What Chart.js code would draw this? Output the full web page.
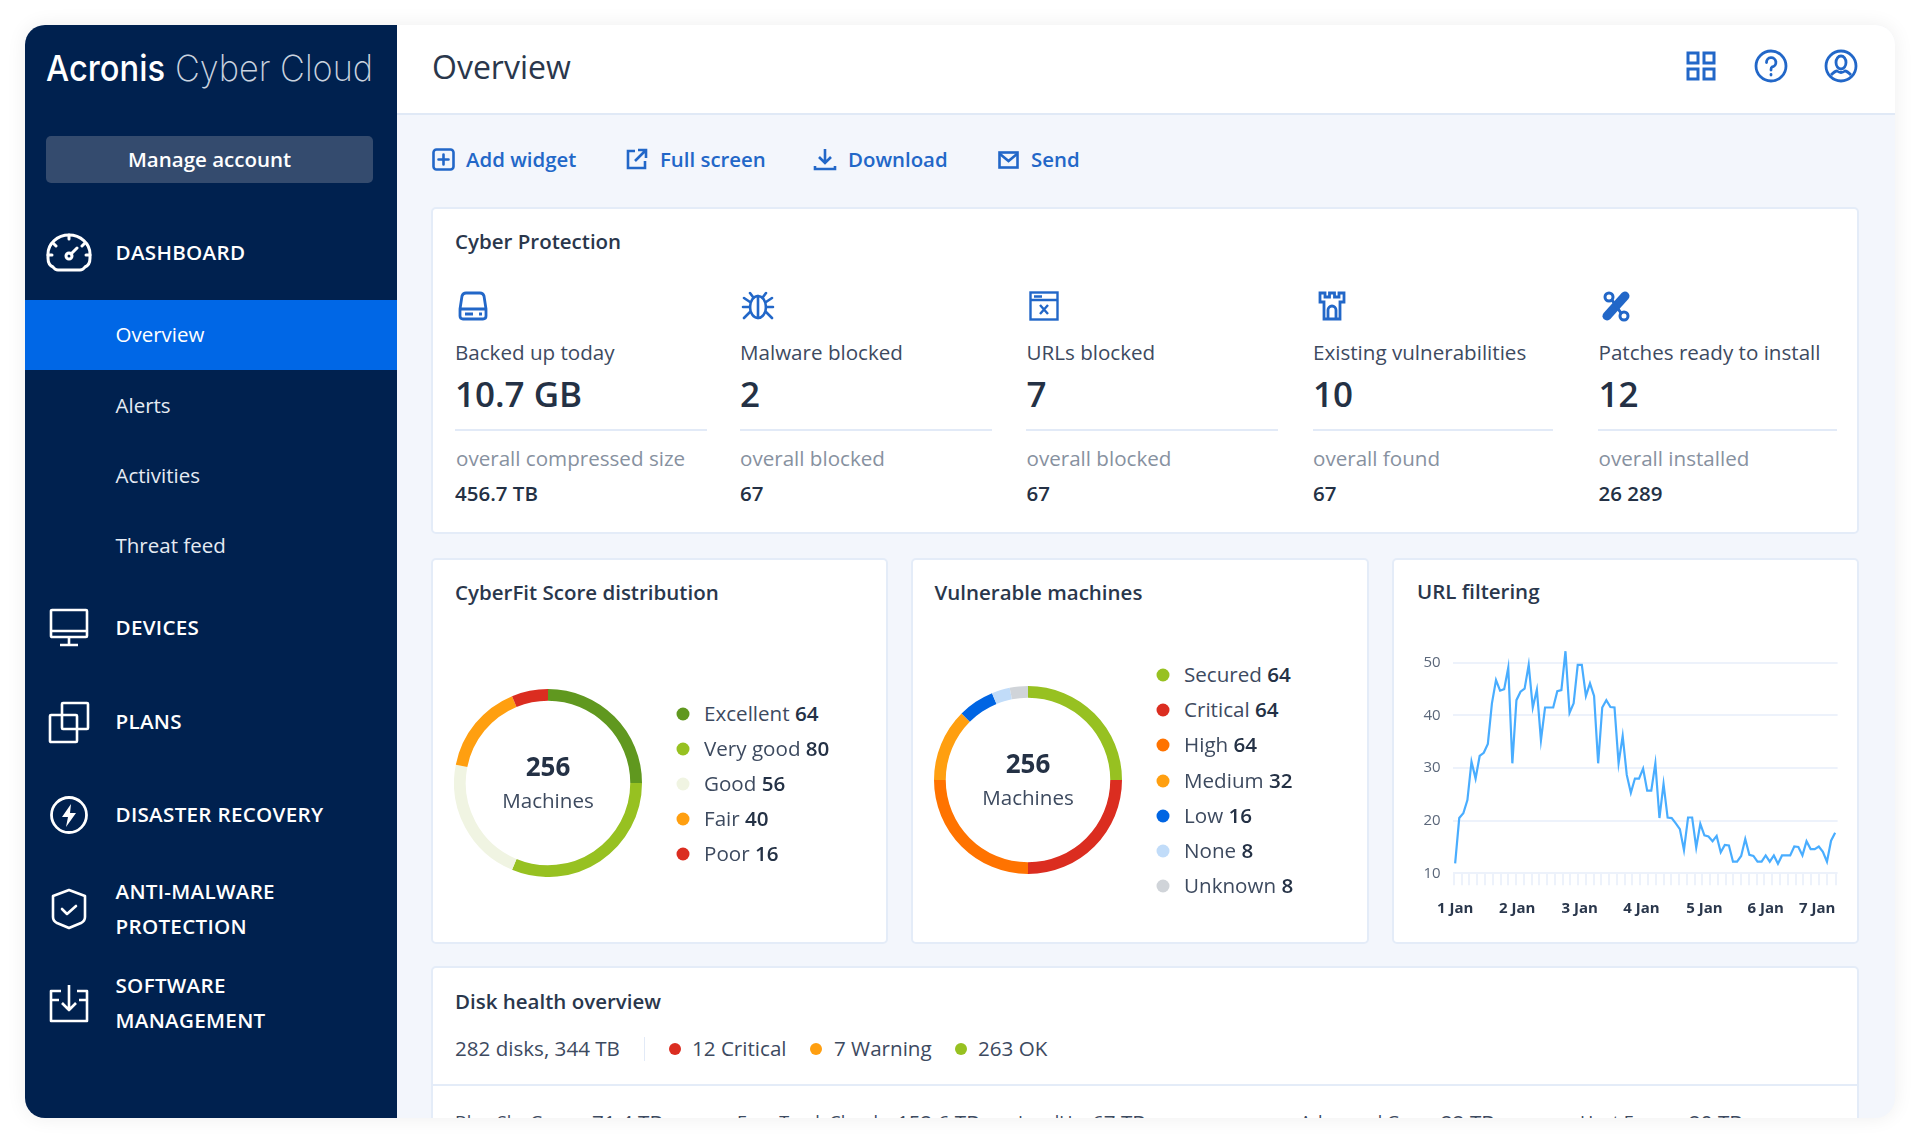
<!DOCTYPE html>
<html>
<head>
<meta charset="utf-8">
<title>Overview</title>
<script src="https://cdn.jsdelivr.net/npm/chart.js@4"></script>
<style>
  html, body { margin: 0; padding: 0; background: #fff; }
  body { width: 1920px; height: 1143px; overflow: hidden; position: relative; font-family: "Open Sans", sans-serif; color: #2a374c; }
  .abs { position: absolute; white-space: nowrap; line-height: 1; transform: translateY(calc(-50% - 1px)); }
  #panel { position: absolute; left: 25px; top: 25px; width: 1870px; height: 1093px; border-radius: 20px; overflow: hidden; background: #f3f6fc; box-shadow: 0 0 20px rgba(0,0,0,.07); }
  #stage { position: absolute; left: -25px; top: -25px; width: 1920px; height: 1143px; }
  #sidebar { position: absolute; left: 25px; top: 25px; width: 372px; height: 1093px; background: #00214f; }
  #topbar { position: absolute; left: 397px; top: 25px; width: 1498px; height: 90px; background: #fff; border-bottom: 2px solid #e0e9f6; box-sizing: border-box; }
  #active { position: absolute; left: 25px; top: 300px; width: 372px; height: 70px; background: #0067e6; }
  #manage { position: absolute; left: 46px; top: 136px; width: 327px; height: 47px; line-height: 47px; text-align: center; background: #344b6e; border-radius: 5px; color: #fff; font-size: 20.5px; font-weight: 600; }
  .nav { color: #fff; font-size: 20.6px; font-weight: 600; letter-spacing: .3px; left: 115.5px; }
  .sub { color: #e6ebf3; font-size: 20.5px; left: 115.5px; }
  .act { color: #2267c8; font-size: 20.4px; font-weight: 600; }
  .card { position: absolute; background: #fff; border: 2px solid #e4ecf8; border-radius: 5px; box-sizing: border-box; }
  .ctitle { font-size: 20.5px; font-weight: 600; color: #2a374c; }
  .lbl { font-size: 20.6px; color: #3d4a5f; }
  .big { font-size: 35px; font-weight: 600; color: #243145; }
  .muted { font-size: 20.6px; color: #8791a0; }
  .val { font-size: 20.5px; font-weight: 600; color: #243145; }
  .rule { position: absolute; height: 2px; background: #e2eaf7; top: 429px; }
  .dot { position: absolute; width: 12px; height: 12px; border-radius: 50%; transform: translate(-50%,-50%); }
  .leg { font-size: 20.6px; color: #3d4a5f; }
  .leg b { font-weight: 600; color: #243145; }
  .name { font-size: 18px; }
  .ctr { transform: translate(-50%,-50%); text-align: center; }
  svg.ic { position: absolute; fill: none; overflow: visible; }
  canvas { position: absolute; }
</style>
</head>
<body>
<div id="panel"><div id="stage">
  <div id="sidebar"></div>
  <div id="active"></div>
  <div id="topbar"></div>

  <svg class="ic" style="left:0;top:0" width="400" height="110">
    <text x="46" y="81" fill="#fff" font-family="Inter" font-size="36" font-weight="500" textLength="119" lengthAdjust="spacingAndGlyphs">Acronis</text>
    <text x="175" y="81" fill="#c9d2df" font-family="Inter" font-size="36" font-weight="200" textLength="198" lengthAdjust="spacingAndGlyphs">Cyber Cloud</text>
  </svg>
  <div id="manage">Manage account</div>

  <!-- sidebar icons -->
  <svg class="ic" style="left:46px;top:232px" width="46" height="42" stroke="#fff" stroke-width="3" stroke-linecap="round" stroke-linejoin="round">
    <path d="M12 38 H34 Q37 38 39 35 Q44 33 44 26 V22 A21 19 0 0 0 2 22 V26 Q2 33 7 35 Q9 38 12 38 Z"/>
    <path d="M23 3 V7 M7 11 L10 14 M39 11 L36 14 M2 23 H6 M44 23 H40 M25 22 L31 16"/>
    <circle cx="23" cy="24" r="3"/>
  </svg>
  <svg class="ic" style="left:50px;top:609px" width="38" height="38" stroke="#fff" stroke-width="2.6" stroke-linejoin="round">
    <rect x="1" y="1" width="36" height="27" rx="1"/><path d="M1 22 H37 M19 28 V35 M10 36 H28"/>
  </svg>
  <svg class="ic" style="left:49px;top:701px" width="40" height="42" stroke="#fff" stroke-width="2.6">
    <rect x="13" y="2" width="26" height="26" rx="1"/><rect x="1" y="14" width="27" height="27" rx="1"/>
  </svg>
  <svg class="ic" style="left:50px;top:796px" width="38" height="38" stroke="#fff" stroke-width="2.8">
    <circle cx="19" cy="19" r="17.5"/><path d="M21 8 L12 21 H18 L16 31 L26 17 H20 Z" fill="#fff" stroke="none"/>
  </svg>
  <svg class="ic" style="left:51px;top:888px" width="36" height="42" stroke="#fff" stroke-width="2.6" stroke-linejoin="round" stroke-linecap="round">
    <path d="M18 2 L34 8 V29 Q34 33 30 35 L18 40 L6 35 Q2 33 2 29 V8 Z"/><path d="M11 21 L16 26 L25 18"/>
  </svg>
  <svg class="ic" style="left:49px;top:983px" width="40" height="42" stroke="#fff" stroke-width="2.6" stroke-linejoin="round">
    <path d="M12 8 H2 V38 H38 V8 H28 M2 17 H10 M38 17 H30"/><path d="M20 2 V27 M13 20 L20 27 L27 20"/>
  </svg>

  <div class="abs nav" style="top:253px">DASHBOARD</div>
  <div class="abs sub" style="top:335px;color:#fff">Overview</div>
  <div class="abs sub" style="top:406px">Alerts</div>
  <div class="abs sub" style="top:476px">Activities</div>
  <div class="abs sub" style="top:546px">Threat feed</div>
  <div class="abs nav" style="top:628px">DEVICES</div>
  <div class="abs nav" style="top:722px">PLANS</div>
  <div class="abs nav" style="top:815px">DISASTER RECOVERY</div>
  <div class="abs nav" style="top:891.5px">ANTI-MALWARE</div>
  <div class="abs nav" style="top:926.5px">PROTECTION</div>
  <div class="abs nav" style="top:985.5px">SOFTWARE</div>
  <div class="abs nav" style="top:1020.5px">MANAGEMENT</div>

  <div class="abs" style="left:432px;top:68px;font-size:32px;color:#2a374c">Overview</div>

  <!-- top right icons -->
  <svg class="ic" style="left:1686px;top:51px" width="30" height="30" stroke="#2267c8" stroke-width="3">
    <path d="M2 2 H12 V12 H2 Z M18 2 H28 V12 H18 Z M2 18 H12 V28 H2 Z M18 18 H28 V28 H18 Z"/>
  </svg>
  <svg class="ic" style="left:1755px;top:50px" width="32" height="32" stroke="#2267c8" stroke-width="2.8" stroke-linecap="round">
    <circle cx="16" cy="16" r="15"/><path d="M11.5 12.5 A4.7 4.7 0 1 1 17 17 Q16 17.5 16 20"/><path d="M16 24.5 V25" />
  </svg>
  <svg class="ic" style="left:1825px;top:50px" width="32" height="32" stroke="#2267c8" stroke-width="2.8">
    <circle cx="16" cy="16" r="15"/><ellipse cx="16" cy="12.5" rx="5" ry="6.5"/><path d="M6 25 Q10 21 12 21 Q16 24 20 21 Q22 21 26 25"/>
  </svg>

  <!-- action row -->
  <svg class="ic" style="left:432px;top:148px" width="23" height="23" stroke="#2267c8" stroke-width="2.6" stroke-linecap="round">
    <rect x="1.5" y="1.5" width="20" height="20" rx="3"/><path d="M11.5 6.5 V16.5 M6.5 11.5 H16.5"/>
  </svg>
  <div class="abs act" style="left:466px;top:160px">Add widget</div>
  <svg class="ic" style="left:626px;top:148px" width="22" height="22" stroke="#2267c8" stroke-width="2.6">
    <path d="M9 3 H2 V20 H19 V13 M12 2 H20 V10 M20 2 L9 13"/>
  </svg>
  <div class="abs act" style="left:660px;top:160px">Full screen</div>
  <svg class="ic" style="left:814px;top:148px" width="22" height="23" stroke="#2267c8" stroke-width="2.6">
    <path d="M11 1 V15 M5 9 L11 15 L17 9"/><path d="M1 18 V21 H21 V18"/>
  </svg>
  <div class="abs act" style="left:848px;top:160px">Download</div>
  <svg class="ic" style="left:998px;top:151px" width="21" height="18" stroke="#2267c8" stroke-width="2.6">
    <rect x="1.5" y="1.5" width="18" height="15"/><path d="M2 3 L10.5 10 L19 3"/>
  </svg>
  <div class="abs act" style="left:1031px;top:160px">Send</div>

  <!-- cyber protection -->
  <div class="card" style="left:431px;top:207px;width:1428px;height:327px"></div>
  <div class="abs ctitle" style="left:455px;top:242px">Cyber Protection</div>

  <svg class="ic" style="left:458px;top:291px" width="30" height="30" stroke="#2267c8" stroke-width="2.8" stroke-linejoin="round">
    <path d="M8 2 H22 Q25 2 26 5 L28 18 V25 Q28 28 25 28 H5 Q2 28 2 25 V18 L4 5 Q5 2 8 2 Z M2 18 H28"/><path d="M7 23 H15 M21 23 H24"/>
  </svg>
  <svg class="ic" style="left:741px;top:291px" width="34" height="30" stroke="#2267c8" stroke-width="2.6" stroke-linecap="round">
    <ellipse cx="17" cy="16" rx="8" ry="11"/><path d="M17 5 V27 M12 6 L9 2 M22 6 L25 2 M9 11 L3 7 M25 11 L31 7 M9 16 H2 M25 16 H32 M9 21 L3 27 M25 21 L31 27"/>
  </svg>
  <svg class="ic" style="left:1029px;top:291px" width="30" height="30" stroke="#2267c8" stroke-width="2.4">
    <rect x="1.5" y="1.5" width="27" height="27"/><path d="M1.5 9 H28.5 M5 5.5 H13 M11 14 L19 23 M19 14 L11 23" />
  </svg>
  <svg class="ic" style="left:1318px;top:291px" width="28" height="30" stroke="#2267c8" stroke-width="2.8">
    <path d="M2 2 H7 V6 H11.5 V2 H16.5 V6 H21 V2 H26 V11 H22 V28 H6 V11 H2 Z"/><path d="M10 28 V19 A4 4 0 0 1 18 19 V28"/>
  </svg>
  <svg class="ic" style="left:1602px;top:291px" width="28" height="30" stroke="#2267c8" stroke-width="3" stroke-linecap="round">
    <path d="M5 25 L23 5" stroke-width="9"/><circle cx="7" cy="6" r="4"/><circle cx="22" cy="25" r="4" /><path d="M10 9 L19 22"/>
  </svg>

  <div class="abs lbl" style="left:455px;top:353px">Backed up today</div>
  <div class="abs big" style="left:455px;top:394px">10.7 GB</div>
  <div class="rule" style="left:455px;width:252px"></div>
  <div class="abs muted" style="left:456px;top:459px">overall compressed size</div>
  <div class="abs val" style="left:455px;top:494px">456.7 TB</div>

  <div class="abs lbl" style="left:740px;top:353px">Malware blocked</div>
  <div class="abs big" style="left:740px;top:394px">2</div>
  <div class="rule" style="left:740px;width:252px"></div>
  <div class="abs muted" style="left:740px;top:459px">overall blocked</div>
  <div class="abs val" style="left:740px;top:494px">67</div>

  <div class="abs lbl" style="left:1026.5px;top:353px">URLs blocked</div>
  <div class="abs big" style="left:1026.5px;top:394px">7</div>
  <div class="rule" style="left:1026px;width:252px"></div>
  <div class="abs muted" style="left:1026.5px;top:459px">overall blocked</div>
  <div class="abs val" style="left:1026.5px;top:494px">67</div>

  <div class="abs lbl" style="left:1313px;top:353px">Existing vulnerabilities</div>
  <div class="abs big" style="left:1313px;top:394px">10</div>
  <div class="rule" style="left:1313px;width:240px"></div>
  <div class="abs muted" style="left:1313px;top:459px">overall found</div>
  <div class="abs val" style="left:1313px;top:494px">67</div>

  <div class="abs lbl" style="left:1598.5px;top:353px">Patches ready to install</div>
  <div class="abs big" style="left:1598.5px;top:394px">12</div>
  <div class="rule" style="left:1598px;width:239px"></div>
  <div class="abs muted" style="left:1598.5px;top:459px">overall installed</div>
  <div class="abs val" style="left:1598.5px;top:494px">26 289</div>

  <!-- widgets row -->
  <div class="card" style="left:431px;top:558px;width:457px;height:386px"></div>
  <div class="card" style="left:911px;top:558px;width:458px;height:386px"></div>
  <div class="card" style="left:1392px;top:558px;width:467px;height:386px"></div>
  <div class="abs ctitle" style="left:455px;top:593px">CyberFit Score distribution</div>
  <div class="abs ctitle" style="left:934.5px;top:593px">Vulnerable machines</div>
  <div class="abs ctitle" style="left:1417px;top:592px">URL filtering</div>

  <canvas id="scoreChart" style="left:454px;top:689px"></canvas>
  <div class="abs ctr" style="left:548px;top:766px;font-size:26px;font-weight:700;color:#243145">256</div>
  <div class="abs ctr" style="left:548px;top:800px;font-size:20.6px;color:#3d4a5f">Machines</div>
  <div id="scoreLegend"></div>

  <canvas id="vulnChart" style="left:934px;top:686px"></canvas>
  <div class="abs ctr" style="left:1028px;top:763px;font-size:26px;font-weight:700;color:#243145">256</div>
  <div class="abs ctr" style="left:1028px;top:797px;font-size:20.6px;color:#3d4a5f">Machines</div>
  <div id="vulnLegend"></div>

  <canvas id="urlChart" style="left:1410px;top:626px"></canvas>

  <!-- disk health -->
  <div class="card" style="left:431px;top:966px;width:1428px;height:200px"></div>
  <div class="abs ctitle" style="left:455px;top:1002px">Disk health overview</div>
  <div class="abs leg" style="left:455px;top:1049px">282 disks, 344 TB</div>
  <div style="position:absolute;left:644px;top:1037px;width:1px;height:24px;background:#e2eaf7"></div>
  <div class="dot" style="left:675px;top:1049px;background:#db2d20"></div>
  <div class="abs leg" style="left:692px;top:1049px">12 Critical</div>
  <div class="dot" style="left:816px;top:1049px;background:#ff9f10"></div>
  <div class="abs leg" style="left:834px;top:1049px">7 Warning</div>
  <div class="dot" style="left:961px;top:1049px;background:#97c121"></div>
  <div class="abs leg" style="left:978px;top:1049px">263 OK</div>
  <div style="position:absolute;left:433px;top:1084px;width:1424px;height:2px;background:#e4ecf8"></div>
  <div class="abs leg name" style="left:455px;top:1123px">Blue Sky Group</div>
  <div class="abs leg" style="left:592px;top:1123px">71.4 TB</div>
  <div class="abs leg name" style="left:737px;top:1123px">Easy Track Cloud</div>
  <div class="abs leg" style="left:897px;top:1123px">152.6 TB</div>
  <div class="abs leg name" style="left:1018px;top:1123px">LoadUp</div>
  <div class="abs leg" style="left:1092px;top:1123px">67 TB</div>
  <div class="abs leg name" style="left:1300px;top:1123px">Advanced Group</div>
  <div class="abs leg" style="left:1441px;top:1123px">22 TB</div>
  <div class="abs leg name" style="left:1580px;top:1123px">Host Forge</div>
  <div class="abs leg" style="left:1689px;top:1123px">20 TB</div>
</div></div>

<script>
// cyberfit donut
const scoreLabels = ["Excellent", "Very good", "Good", "Fair", "Poor"];
const scoreValues = [64, 80, 56, 40, 16];
const scoreColors = ["#60981f", "#97c121", "#f0f4e2", "#ff9f10", "#db2d20"];
const scoreLegendY = [714, 749, 784, 819, 854];

// vulnerable machines donut
const vulnLabels = ["Secured", "Critical", "High", "Medium", "Low", "None", "Unknown"];
const vulnValues = [64, 64, 64, 32, 16, 8, 8];
const vulnColors = ["#97c121", "#db2d20", "#ff7300", "#ff9f10", "#0065e3", "#c1dcf9", "#d0d4d9"];
const vulnLegendY = [675, 710, 745, 781, 816, 851, 886];

// url filtering line
const urlValues = [
  11.9, 20.5, 21.4, 23.9, 31.2, 28, 32.3, 32.9, 34.6, 42.3, 46.7, 44.7, 45, 49.1, 30.9, 42.9,
  44.5, 45.1, 49.6, 41.5, 44.9, 35.3, 41.5, 41.5, 41.5, 44.6, 44.8, 52.2, 40.5, 42.3, 49.6, 49.6,
  43.7, 46.1, 43.7, 30.9, 41.5, 42.9, 41.6, 41.5, 30.9, 36.1, 28.7, 25.3, 28, 28, 29.9, 25.7,
  25.7, 30.9, 20.5, 27, 20.6, 20.5, 19.5, 18.4, 14.4, 20.6, 20.6, 14.9, 19.4, 17.2, 17, 16.1,
  17.1, 14, 15.4, 15.3, 12.2, 12.2, 13.3, 16.5, 13.5, 13.3, 12.2, 12.2, 13.4, 12.2, 13.4, 11.8,
  13.4, 13.4, 13.4, 15.1, 15, 13.4, 16.1, 14.6, 14.6, 15.1, 14.1, 12.2, 16.2, 17.7
];
const urlDayLabels = ["1 Jan", "2 Jan", "3 Jan", "4 Jan", "5 Jan", "6 Jan", "7 Jan"];
const urlDayPositions = [0, 15.2, 30.5, 45.6, 61, 76, 88.6];
const urlYTicks = [10, 20, 30, 40, 50];
const urlMarkPositions = [
  -0.3, 1.6, 3.5, 5.4, 7.3, 9.2, 11.1, 13, 14.9, 16.8, 18.7, 20.6, 22.5, 24.4, 26.3, 28.2, 30.1,
  32, 33.9, 35.8, 37.7, 39.6, 41.5, 43.4, 45.3, 47.2, 49.1, 51, 52.9, 54.8, 56.7, 58.6, 60.5,
  62.4, 64.3, 66.2, 68.1, 70, 71.9, 73.8, 75.7, 77.6, 79.5, 81.4, 83.3, 85.2, 87.1, 89, 90.9, 93.3
];

Chart.defaults.font.family = '"Open Sans", sans-serif';
Chart.defaults.animation = false;

function buildLegend(id, labels, values, colors, ys, dotX, textX) {
  const box = document.getElementById(id);
  labels.forEach((name, i) => {
    const dot = document.createElement("div");
    dot.className = "dot";
    dot.style.cssText = `left:${dotX}px;top:${ys[i] - 0.5}px;background:${colors[i]};width:13px;height:13px`;
    box.appendChild(dot);
    const txt = document.createElement("div");
    txt.className = "abs leg";
    txt.style.cssText = `left:${textX}px;top:${ys[i]}px`;
    txt.innerHTML = `${name} <b>${values[i]}</b>`;
    box.appendChild(txt);
  });
}

function donut(id, labels, values, colors) {
  const el = document.getElementById(id);
  el.width = 188;
  el.height = 188;
  new Chart(el.getContext("2d"), {
    type: "doughnut",
    data: { labels, datasets: [{ data: values, backgroundColor: colors, borderWidth: 0 }] },
    options: {
      responsive: false,
      cutout: "87.5%",
      plugins: { legend: { display: false }, tooltip: { enabled: false } }
    }
  });
}

function urlLine() {
  const el = document.getElementById("urlChart");
  el.width = 440;
  el.height = 304;
  new Chart(el.getContext("2d"), {
    type: "line",
    data: {
      datasets: [{
        data: urlValues.map((v, i) => ({ x: i, y: v })),
        borderColor: "#49adff",
        borderWidth: 2.2,
        pointRadius: 0,
        tension: 0
      }]
    },
    options: {
      responsive: false,
      layout: { padding: { right: 11 } },
      plugins: { legend: { display: false }, tooltip: { enabled: false } },
      scales: {
        y: {
          min: 10,
          max: 53,
          afterBuildTicks: s => { s.ticks = urlYTicks.map(value => ({ value })); },
          afterFit: s => { s.width = 42.7; },
          border: { display: false },
          grid: { color: "#edf2fb", lineWidth: 2, drawTicks: false },
          ticks: { padding: 12, color: "#5b677a", font: { size: 15 } }
        },
        marks: {
          type: "linear",
          position: "bottom",
          axis: "x",
          weight: 0,
          min: -0.6,
          max: 93.6,
          afterBuildTicks: s => { s.ticks = urlMarkPositions.map(value => ({ value })); },
          afterFit: s => { s.height = 12; },
          border: { display: false },
          grid: { drawOnChartArea: false, tickLength: 12, tickColor: "#edf2fb", lineWidth: 2 },
          ticks: { display: false }
        },
        x: {
          type: "linear",
          position: "bottom",
          weight: 1,
          min: -0.6,
          max: 93.6,
          afterBuildTicks: s => { s.ticks = urlDayPositions.map(value => ({ value })); },
          afterFit: s => { s.height = 44.7; },
          border: { display: false },
          grid: { display: false, drawTicks: false },
          ticks: {
            autoSkip: false,
            maxRotation: 0,
            padding: 14,
            color: "#2a374c",
            font: { size: 15, weight: 700 },
            callback: (v, i) => urlDayLabels[i]
          }
        }
      }
    }
  });
}

document.addEventListener("DOMContentLoaded", () => {
  buildLegend("scoreLegend", scoreLabels, scoreValues, scoreColors, scoreLegendY, 683, 704);
  buildLegend("vulnLegend", vulnLabels, vulnValues, vulnColors, vulnLegendY, 1163, 1184);
  donut("scoreChart", scoreLabels, scoreValues, scoreColors);
  donut("vulnChart", vulnLabels, vulnValues, vulnColors);
  urlLine();
});
</script>
</body>
</html>
